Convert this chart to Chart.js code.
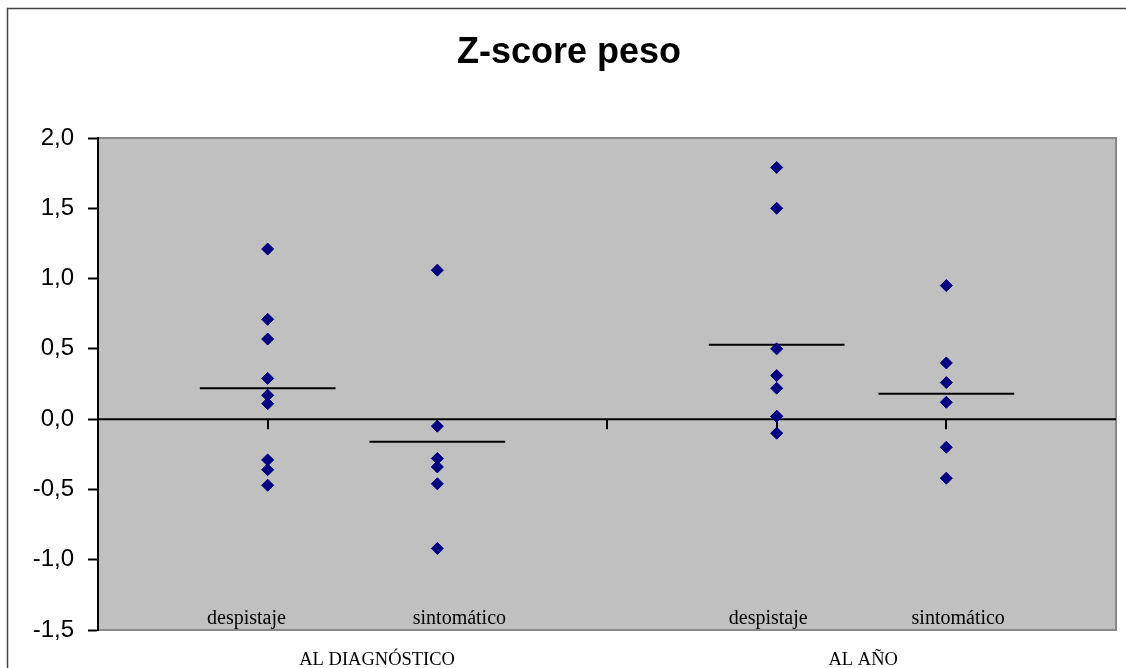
<!DOCTYPE html>
<html>
<head>
<meta charset="utf-8">
<script src="https://cdn.jsdelivr.net/npm/chart.js@4/dist/chart.umd.min.js"></script>
<style>
  html, body { margin: 0; padding: 0; background: #fff; }
  #wrap { width: 1126px; height: 668px; }
</style>
</head>
<body>
<div id="wrap"><canvas id="myChart" width="1126" height="668"></canvas></div>
<script>
// values
var titleText = "Z-score peso";
var categories = ["despistaje", "sintomático", "despistaje", "sintomático"];
var periods = ["AL DIAGNÓSTICO", "AL AÑO"];
var groupX = [1, 2, 4, 5];
var diagDespistaje = [1.21, 0.71, 0.57, 0.29, 0.17, 0.11, -0.29, -0.36, -0.47];
var diagSintomatico = [1.06, -0.05, -0.28, -0.34, -0.46, -0.92];
var anoDespistaje = [1.79, 1.50, 0.50, 0.31, 0.22, 0.02, 0.02, -0.10];
var anoSintomatico = [0.95, 0.40, 0.26, 0.12, -0.20, -0.42];
var means = [0.22, -0.16, 0.53, 0.18];
var yMin = -1.5, yMax = 2.0, yStep = 0.5;
var xMin = 0, xMax = 6;

// label placement (x in axis units)
var categoryLabelX = [0.875, 2.13, 3.95, 5.07];
var periodLabelX = [1.645, 4.51];
var meanHalfWidth = 0.4;

var groups = [diagDespistaje, diagSintomatico, anoDespistaje, anoSintomatico];

var datasets = [];
groups.forEach(function (vals, i) {
  datasets.push({
    type: "scatter",
    label: categories[i],
    data: vals.map(function (v) { return { x: groupX[i], y: v }; }),
    pointStyle: "rectRot",
    pointRadius: 6,
    pointHoverRadius: 6,
    backgroundColor: "#000080",
    borderColor: "#000080",
    borderWidth: 1,
    order: 0
  });
});
means.forEach(function (m, i) {
  datasets.push({
    type: "line",
    label: "media " + categories[i],
    data: [{ x: groupX[i] - meanHalfWidth, y: m }, { x: groupX[i] + meanHalfWidth, y: m }],
    borderColor: "#000",
    borderWidth: 2,
    pointRadius: 0,
    fill: false,
    order: 1
  });
});

// background, frame and the texts Chart.js has no place for
var decorations = {
  id: "decorations",
  beforeDraw: function (chart) {
    var ctx = chart.ctx, a = chart.chartArea;
    ctx.save();
    ctx.fillStyle = "#fff";
    ctx.fillRect(0, 0, chart.width, chart.height);
    ctx.strokeStyle = "#444";
    ctx.lineWidth = 1.5;
    ctx.strokeRect(7.5, 8.5, chart.width + 20, chart.height + 20);
    ctx.fillStyle = "#c0c0c0";
    ctx.fillRect(a.left, a.top, a.right - a.left, a.bottom - a.top);
    ctx.strokeStyle = "#888";
    ctx.lineWidth = 2;
    ctx.strokeRect(a.left, a.top, a.right - a.left, a.bottom - a.top);

    ctx.fillStyle = "#000";
    ctx.textAlign = "center";
    ctx.textBaseline = "alphabetic";
    ctx.font = "bold 36px 'Liberation Sans', Arial, sans-serif";
    ctx.fillText(titleText, 569, 63);
    ctx.restore();
  },
  beforeDatasetsDraw: function (chart) {
    var ctx = chart.ctx, a = chart.chartArea;
    var xs = chart.scales.x, ys = chart.scales.y;
    var y0 = ys.getPixelForValue(0);
    ctx.save();
    ctx.strokeStyle = "#000";
    ctx.lineWidth = 2;
    ctx.beginPath();
    ctx.moveTo(a.left, y0);
    ctx.lineTo(a.right, y0);
    for (var t = xMin + 1; t < xMax; t++) {
      var px = Math.round(xs.getPixelForValue(t));
      ctx.moveTo(px, y0);
      ctx.lineTo(px, y0 + 10);
    }
    ctx.stroke();

    ctx.fillStyle = "#000";
    ctx.textAlign = "center";
    ctx.textBaseline = "alphabetic";
    ctx.font = "20px 'Liberation Serif', 'Times New Roman', serif";
    categories.forEach(function (c, i) {
      ctx.fillText(c, xs.getPixelForValue(categoryLabelX[i]), a.bottom - 6);
    });
    ctx.font = "18.5px 'Liberation Serif', 'Times New Roman', serif";
    periods.forEach(function (p, i) {
      ctx.fillText(p, xs.getPixelForValue(periodLabelX[i]), a.bottom + 35);
    });
    ctx.restore();
  }
};

var chart = new Chart(document.getElementById("myChart"), {
  type: "scatter",
  data: { datasets: datasets },
  options: {
    responsive: false,
    animation: false,
    events: [],
    layout: { padding: { top: 138, bottom: 38, right: 10, left: 0 } },
    plugins: {
      legend: { display: false },
      tooltip: { enabled: false },
      title: { display: false }
    },
    scales: {
      x: {
        type: "linear",
        min: xMin,
        max: xMax,
        display: false
      },
      y: {
        type: "linear",
        position: "left",
        min: yMin,
        max: yMax,
        afterFit: function (scale) { scale.width = 98; },
        ticks: {
          stepSize: yStep,
          padding: 14,
          color: "#000",
          font: { family: "'Liberation Sans', Arial, sans-serif", size: 24 },
          callback: function (v) { return v.toFixed(1).replace(".", ","); }
        },
        grid: {
          drawOnChartArea: false,
          drawTicks: true,
          tickLength: 10,
          tickWidth: 2,
          tickColor: "#000"
        },
        border: { display: true, color: "#000", width: 2 }
      }
    }
  },
  plugins: [decorations]
});
</script>
</body>
</html>
